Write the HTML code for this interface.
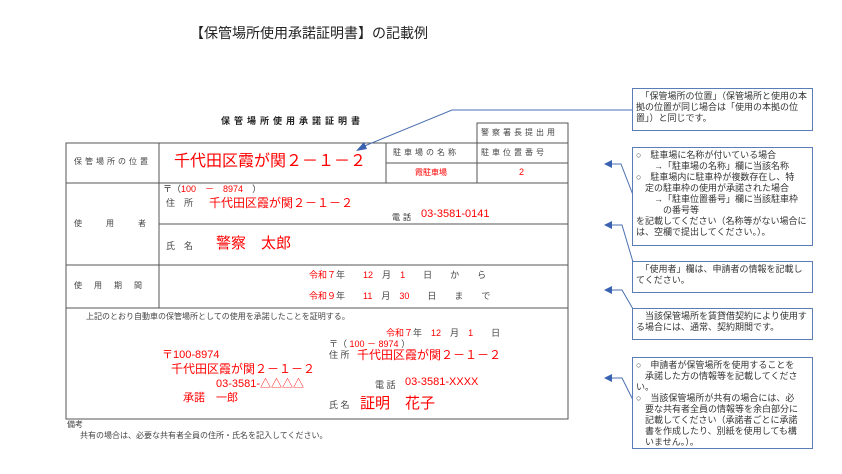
<!DOCTYPE html>
<html><head><meta charset="utf-8"><style>
body{margin:0;width:842px;height:474px;background:#fff;position:relative;overflow:hidden;font-family:"Liberation Sans","Noto Sans CJK JP",sans-serif;color:#333}
.a{position:absolute;white-space:nowrap;line-height:1}
.r{color:#f00}
.s{font-size:8px;letter-spacing:3px;color:#444}
.b{position:absolute;border:1.5px solid #5b7db5;background:#fff;font-size:9px;line-height:11px;padding:2px 3px;box-sizing:border-box;color:#333}
</style></head><body>
<div class="a" style="left:190px;top:26px;font-size:14px;color:#222">【保管場所使用承諾証明書】の記載例</div>
<div class="a" style="left:221px;top:117px;font-size:9px;letter-spacing:4px;color:#222;font-weight:bold">保管場所使用承諾証明書</div>

<svg style="position:absolute;left:0;top:0" width="842" height="474">
<g stroke="#555" stroke-width="1" fill="none">
<rect x="66" y="143" width="502" height="276"/>
<rect x="477" y="123" width="91" height="20"/>
<line x1="159" y1="143" x2="159" y2="308"/>
<line x1="386" y1="143" x2="386" y2="183"/>
<line x1="477" y1="143" x2="477" y2="183"/>
<line x1="386" y1="163" x2="568" y2="163"/>
<line x1="66" y1="183" x2="568" y2="183"/>
<line x1="159" y1="224" x2="568" y2="224"/>
<line x1="66" y1="265" x2="568" y2="265"/>
<line x1="66" y1="308" x2="568" y2="308"/>
</g>
<g stroke="#4a6fb0" stroke-width="1" fill="none">
<polyline points="632,110 452,110 362,147"/>
<polyline points="633,195 621,164 610,164"/>
<polyline points="633,262 622,225 610,225"/>
<polyline points="633,309 622,290 610,290"/>
<polyline points="633,400 622,378 610,378"/>
</g>
<g fill="#3a62b0">
<polygon points="356,151 364,142 367,149"/>
<polygon points="604,164 612,160 612,168"/>
<polygon points="604,225 612,221 612,229"/>
<polygon points="604,290 612,286 612,294"/>
<polygon points="604,378 612,374 612,382"/>
</g>
</svg>

<div class="a s" style="left:481px;top:129px">警察署長提出用</div>
<div class="a s" style="left:74px;top:158px">保管場所の位置</div>
<div class="a r" style="left:174px;top:154px;font-size:16px">千代田区霞が関２－１－２</div>
<div class="a s" style="left:393px;top:149px">駐車場の名称</div>
<div class="a s" style="left:481px;top:149px">駐車位置番号</div>
<div class="a r" style="left:415px;top:169px;font-size:8px">霞駐車場</div>
<div class="a r" style="left:519px;top:168px;font-size:9px">2</div>

<div class="a s" style="left:74px;top:220px;letter-spacing:24px">使用者</div>
<div class="a" style="left:163px;top:185px;font-size:9px">〒（<span class="r">100　－　8974</span>　）</div>
<div class="a" style="left:166px;top:199px;font-size:9px;color:#444">住　所</div>
<div class="a r" style="left:209px;top:197px;font-size:12px">千代田区霞が関２－１－２</div>
<div class="a" style="left:392px;top:214px;font-size:8px;letter-spacing:3px">電話</div>
<div class="a r" style="left:421px;top:209px;font-size:11px">03-3581-0141</div>
<div class="a" style="left:166px;top:242px;font-size:9px;color:#444">氏　名</div>
<div class="a r" style="left:216px;top:236px;font-size:15px">警察　太郎</div>

<div class="a s" style="left:74px;top:282px;letter-spacing:12px">使用期間</div>
<div class="a" style="left:309px;top:271px;font-size:9px;color:#444"><span class="r">令和７</span>年　　<span class="r">12</span>　月　<span class="r">1</span>　　日　　か　　ら</div>
<div class="a" style="left:309px;top:292px;font-size:9px;color:#444"><span class="r">令和９</span>年　　<span class="r">11</span>　月　<span class="r">30</span>　　日　　ま　　で</div>

<div class="a" style="left:86px;top:313px;font-size:8px;color:#444">上記のとおり自動車の保管場所としての使用を承諾したことを証明する。</div>
<div class="a" style="left:386px;top:329px;font-size:9px;color:#444"><span class="r">令和７</span>年　<span class="r">12</span>　月　<span class="r">1</span>　　日</div>
<div class="a" style="left:329px;top:340px;font-size:9px;color:#444">〒（ <span class="r">100 － 8974</span> ）</div>
<div class="a" style="left:329px;top:351px;font-size:9px;color:#444">住 所</div>
<div class="a r" style="left:357px;top:349px;font-size:12px">千代田区霞が関２－１－２</div>
<div class="a" style="left:375px;top:381px;font-size:9px;color:#444">電 話</div>
<div class="a r" style="left:405px;top:377px;font-size:11px">03-3581-XXXX</div>
<div class="a" style="left:329px;top:401px;font-size:9px;color:#444">氏 名</div>
<div class="a r" style="left:360px;top:396px;font-size:15px">証明　花子</div>
<div class="a r" style="left:162px;top:350px;font-size:11px">〒100-8974</div>
<div class="a r" style="left:171px;top:363px;font-size:12px">千代田区霞が関２－１－２</div>
<div class="a r" style="left:216px;top:379px;font-size:11px">03-3581-△△△△</div>
<div class="a r" style="left:183px;top:393px;font-size:11px">承諾　一郎</div>

<div class="a" style="left:67px;top:421px;font-size:8px;color:#444">備考</div>
<div class="a" style="left:80px;top:432px;font-size:8px;color:#444">共有の場合は、必要な共有者全員の住所・氏名を記入してください。</div>

<div class="b" style="left:632px;top:88px;width:181px;height:43px">　「保管場所の位置」（保管場所と使用の本拠の位置が同じ場合は「使用の本拠の位置」）と同じです。</div>
<div class="b" style="left:632px;top:147px;width:181px;height:99px">○　駐車場に名称が付いている場合<br>　　→「駐車場の名称」欄に当該名称<br>○　駐車場内に駐車枠が複数存在し、特<br>　定の駐車枠の使用が承諾された場合<br>　　→「駐車位置番号」欄に当該駐車枠<br>　　　の番号等<br>を記載してください（名称等がない場合には、空欄で提出してください。）。</div>
<div class="b" style="left:632px;top:261px;width:181px;height:32px">　「使用者」欄は、申請者の情報を記載してください。</div>
<div class="b" style="left:632px;top:308px;width:181px;height:32px">　当該保管場所を賃貸借契約により使用する場合には、通常、契約期間です。</div>
<div class="b" style="left:632px;top:357px;width:181px;height:92px">○　申請者が保管場所を使用することを<br>　承諾した方の情報等を記載してください。<br>○　当該保管場所が共有の場合には、必<br>　要な共有者全員の情報等を余白部分に<br>　記載してください（承諾者ごとに承諾<br>　書を作成したり、別紙を使用しても構<br>　いません。）。</div>
</body></html>
